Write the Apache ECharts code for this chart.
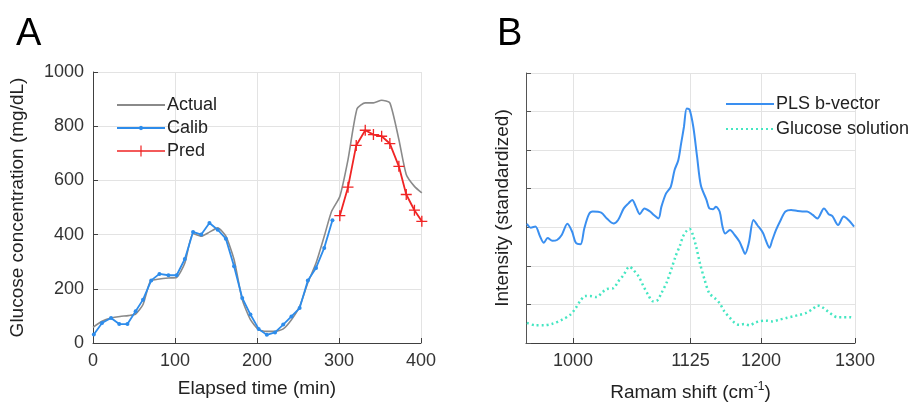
<!DOCTYPE html>
<html>
<head>
<meta charset="utf-8">
<script src="https://cdn.jsdelivr.net/npm/echarts@6/dist/echarts.min.js"></script>
<style>
  html, body { margin: 0; padding: 0; background: #fff; }
  #main { width: 924px; height: 406px; }
</style>
</head>
<body>
<div id="main"></div>
<script>
// Panel A: glucose concentration vs elapsed time
var actualData = [
  [0, 58], [11, 80], [22, 92], [33, 98], [43, 101], [52, 107], [61, 142], [70, 228],
  [81, 236], [92, 240], [102, 242], [112, 295], [122, 404], [132, 394], [142, 409],
  [152, 425], [162, 394], [172, 308], [182, 160], [192, 86], [202, 49], [212, 43],
  [222, 43], [232, 52], [242, 86], [252, 135], [262, 222], [272, 295], [282, 394],
  [291, 486], [301, 541], [311, 677], [322, 864], [332, 886], [342, 886], [352, 896],
  [362, 886], [373, 751], [382, 622], [392, 578], [401, 554]
];
var calibData = [
  [1, 31], [11, 74], [22, 92], [32, 70], [42, 70], [52, 117], [61, 160], [71, 231],
  [81, 255], [92, 250], [102, 250], [112, 310], [122, 410], [132, 400], [142, 443],
  [152, 418], [162, 385], [172, 283], [182, 166], [192, 105], [202, 52], [212, 30],
  [222, 39], [232, 68], [242, 98], [252, 129], [262, 231], [272, 277], [282, 351],
  [292, 453]
];
var predData = [
  [301, 470], [311, 575], [321, 729], [332, 785], [342, 769], [352, 763], [362, 736],
  [373, 652], [382, 548], [392, 490], [401, 449]
];

// Panel B: Raman spectra (standardized)
var plsData = [
  [951, 3.09], [955, 2.99], [960, 3.02], [965, 2.76], [969, 2.60], [973, 2.72], [978, 2.65],
  [983, 2.67], [988, 2.80], [994, 3.09], [999, 2.89], [1003, 2.60], [1008, 2.56], [1012, 2.97],
  [1017, 3.34], [1021, 3.41], [1030, 3.38], [1036, 3.23], [1043, 3.10], [1048, 3.19],
  [1054, 3.49], [1059, 3.62], [1063, 3.71], [1067, 3.53], [1071, 3.34], [1076, 3.49],
  [1082, 3.41], [1086, 3.32], [1091, 3.23], [1094, 3.53], [1099, 3.88], [1104, 4.05],
  [1108, 4.48], [1112, 4.74], [1115, 5.17], [1118, 5.60], [1121, 6.08], [1124, 6.05],
  [1128, 5.60], [1132, 4.83], [1136, 4.09], [1142, 3.71], [1145, 3.49], [1149, 3.47],
  [1152, 3.53], [1156, 3.41], [1159, 3.02], [1162, 2.84], [1167, 2.93], [1172, 2.80],
  [1177, 2.63], [1181, 2.41], [1183, 2.31], [1187, 2.59], [1192, 3.19], [1196, 3.06],
  [1202, 2.86], [1205, 2.67], [1209, 2.47], [1212, 2.67], [1216, 2.93], [1221, 3.19],
  [1226, 3.41], [1232, 3.45], [1239, 3.42], [1244, 3.41], [1249, 3.41], [1255, 3.32],
  [1260, 3.23], [1267, 3.49], [1272, 3.34], [1276, 3.29], [1282, 3.06], [1288, 3.28],
  [1293, 3.19], [1299, 3.02]
];
var glucoseData = [
  [951, 0.52], [960, 0.46], [969, 0.46], [978, 0.50], [988, 0.60], [997, 0.73], [1003, 0.91],
  [1008, 1.10], [1013, 1.22], [1018, 1.22], [1025, 1.19], [1031, 1.31], [1036, 1.40],
  [1043, 1.42], [1048, 1.59], [1054, 1.77], [1060, 1.98], [1064, 1.90], [1070, 1.72],
  [1075, 1.47], [1080, 1.25], [1085, 1.08], [1089, 1.09], [1094, 1.29], [1100, 1.59],
  [1105, 1.94], [1109, 2.24], [1114, 2.54], [1117, 2.76], [1121, 2.91], [1124, 2.96],
  [1127, 2.84], [1131, 2.50], [1135, 2.07], [1140, 1.64], [1145, 1.29], [1151, 1.16],
  [1156, 1.03], [1161, 0.82], [1167, 0.65], [1172, 0.52], [1177, 0.47], [1182, 0.49],
  [1188, 0.46], [1193, 0.52], [1198, 0.56], [1205, 0.58], [1212, 0.56], [1219, 0.60],
  [1227, 0.65], [1234, 0.69], [1241, 0.73], [1248, 0.78], [1255, 0.88], [1260, 0.97],
  [1265, 0.93], [1271, 0.82], [1276, 0.73], [1281, 0.67], [1286, 0.67], [1294, 0.67],
  [1299, 0.65]
];
var ramanTicks = [1000, 1125, 1200, 1300];

var fontFam = 'Liberation Sans, Arial, sans-serif';
var axisColor = '#404040';
var gridColor = '#e3e3e3';
var plusPath = 'path://M4.4,0H5.6V4.4H10V5.6H5.6V10H4.4V5.6H0V4.4H4.4Z';
// legend icons drawn in a 48x11 box: line bar + marker
var calibIcon = 'path://M0,4.6H48V6.4H0Z M24,3.3L25.6,3.9L26.2,5.5L25.6,7.1L24,7.7L22.4,7.1L21.8,5.5L22.4,3.9Z';
var predIcon = 'path://M0,4.7H48V6.3H0Z M23.4,0H24.6V11H23.4Z';
var noIcon = { opacity: 0 };

var chart = echarts.init(document.getElementById('main'), null, { renderer: 'canvas' });

var option = {
  backgroundColor: '#fff',
  animation: false,
  textStyle: { fontFamily: fontFam },
  title: [
    { text: 'A', left: 11, top: 11, textStyle: { fontSize: 38, fontWeight: 'normal', color: '#000' } },
    { text: 'B', left: 492, top: 11, textStyle: { fontSize: 38, fontWeight: 'normal', color: '#000' } }
  ],
  legend: [
    {
      data: [
        { name: 'Actual', itemStyle: noIcon },
        { name: 'Calib', icon: calibIcon },
        { name: 'Pred', icon: predIcon }
      ],
      orient: 'vertical', left: 111, top: 91, itemWidth: 48, itemHeight: 11, itemGap: 5,
      textStyle: { fontSize: 18, color: '#222', padding: [0, 0, 0, -3] }
    },
    {
      data: [
        { name: 'PLS b-vector', itemStyle: noIcon },
        { name: 'Glucose solution', itemStyle: noIcon }
      ],
      orient: 'vertical', left: 720, top: 90, itemWidth: 48, itemHeight: 11, itemGap: 7,
      textStyle: { fontSize: 18, color: '#222', padding: [0, 0, 0, -3] }
    }
  ],
  grid: [
    { left: 93, top: 72, width: 328, height: 271, containLabel: false, outerBoundsMode: 'none' },
    { left: 526, top: 73, width: 329, height: 270, containLabel: false, outerBoundsMode: 'none' }
  ],
  xAxis: [
    {
      gridIndex: 0, type: 'value', min: 0, max: 400, interval: 100,
      name: 'Elapsed time (min)', nameLocation: 'middle', nameGap: 36,
      nameTextStyle: { fontSize: 19, color: '#222' },
      axisLine: { lineStyle: { color: axisColor, width: 1 } },
      axisTick: { inside: true, length: 5, lineStyle: { color: axisColor } },
      axisLabel: { fontSize: 18, color: '#333', margin: 9 },
      splitLine: { show: true, lineStyle: { color: gridColor } }
    },
    {
      gridIndex: 1, type: 'value', min: 950, max: 1300,
      name: 'Ramam shift (cm{sup|-1})', nameLocation: 'middle', nameGap: 38,
      nameTextStyle: { fontSize: 19, color: '#222', rich: { sup: { fontSize: 12, color: '#222', padding: [0, 0, 12, 0] } } },
      axisLine: { lineStyle: { color: axisColor, width: 1 } },
      axisTick: { inside: true, length: 5, customValues: ramanTicks, lineStyle: { color: axisColor } },
      axisLabel: { fontSize: 18, color: '#333', margin: 9, customValues: ramanTicks, formatter: function (v) { return String(v); } },
      splitLine: { show: true, lineStyle: { color: gridColor } }
    }
  ],
  yAxis: [
    {
      gridIndex: 0, type: 'value', min: 0, max: 1000, interval: 200,
      name: 'Glucose concentration (mg/dL)', nameLocation: 'middle', nameGap: 66,
      nameTextStyle: { fontSize: 19, color: '#222' },
      axisLine: { show: true, lineStyle: { color: axisColor, width: 1 } },
      axisTick: { show: true, inside: true, length: 5, lineStyle: { color: axisColor } },
      axisLabel: { fontSize: 18, color: '#333', margin: 9, formatter: function (v) { return String(v); } },
      splitLine: { show: true, lineStyle: { color: gridColor } }
    },
    {
      gridIndex: 1, type: 'value', min: 0, max: 7, interval: 1,
      name: 'Intensity (standardized)', nameLocation: 'middle', nameGap: 14,
      nameTextStyle: { fontSize: 19, color: '#222' },
      axisLine: { show: true, lineStyle: { color: '#555', width: 1 } },
      axisTick: { show: true, inside: true, length: 5, lineStyle: { color: '#555' } },
      axisLabel: { show: false },
      splitLine: { show: true, lineStyle: { color: gridColor } }
    }
  ],
  series: [
    {
      name: 'Actual', type: 'line', xAxisIndex: 0, yAxisIndex: 0, data: actualData,
      showSymbol: false, symbol: 'none', smooth: 0.2,
      lineStyle: { color: '#8a8a8a', width: 1.6 }, itemStyle: { color: '#8a8a8a' }, z: 2
    },
    {
      name: 'Calib', type: 'line', xAxisIndex: 0, yAxisIndex: 0, data: calibData,
      symbol: 'circle', symbolSize: 4,
      lineStyle: { color: '#2d8ceb', width: 1.8 }, itemStyle: { color: '#2d8ceb' }, z: 3
    },
    {
      name: 'Pred', type: 'line', xAxisIndex: 0, yAxisIndex: 0, data: predData,
      symbol: plusPath, symbolSize: 11, clip: false,
      lineStyle: { color: '#f02424', width: 1.8 }, itemStyle: { color: '#f02424' }, z: 3
    },
    {
      name: 'PLS b-vector', type: 'line', xAxisIndex: 1, yAxisIndex: 1, data: plsData,
      showSymbol: false, symbol: 'none', smooth: 0.3,
      lineStyle: { color: '#3a8ff0', width: 2 }, itemStyle: { color: '#3a8ff0' }
    },
    {
      name: 'Glucose solution', type: 'line', xAxisIndex: 1, yAxisIndex: 1, data: glucoseData,
      showSymbol: false, symbol: 'none', smooth: 0.3,
      lineStyle: { color: '#45e6c2', width: 2.5, type: [2, 3] }, itemStyle: { color: '#45e6c2' }
    }
  ]
};

chart.setOption(option);
</script>
</body>
</html>
